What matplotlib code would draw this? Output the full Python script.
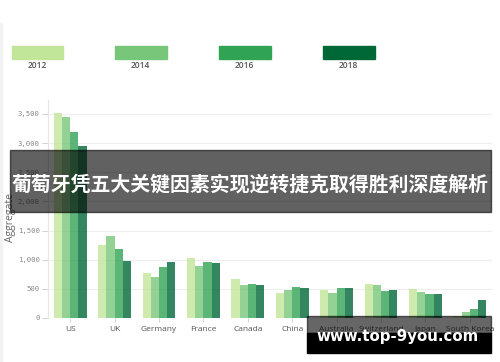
import numpy as np
import matplotlib.pyplot as plt
from matplotlib.patches import Rectangle

# tweak matplotlib settings
plt.rcParams['font.family'] = ['Open Sans', 'DejaVu Sans']

# data
countries = ['US', 'UK', 'Germany', 'France', 'Canada', 'China',
             'Australia', 'Switzerland', 'Japan', 'South Korea']
years = ['2012', '2014', '2016', '2018']
v2012 = [3520, 1260, 777, 1035, 663, 435, 486, 582, 491, 30]
v2014 = [3440, 1415, 697, 885, 560, 486, 435, 560, 445, 105]
v2016 = [3195, 1190, 868, 954, 582, 531, 514, 462, 411, 148]
v2018 = [2955, 976, 959, 937, 565, 520, 509, 486, 417, 313]
colors = ['#c2e699', '#78c679', '#31a354', '#006837']

W, H = 500, 362
fig = plt.figure(figsize=(W / 100, H / 100), dpi=100)

def fx(px):
    return px / W

def fy(py):
    return 1 - py / H

# light strip on the left edge
fig.patches.append(Rectangle((0, 0), fx(2.3), fy(23), transform=fig.transFigure,
                             color='#f2f2f2', zorder=0))

# main axes
ax = fig.add_axes([fx(48), fy(318), fx(492 - 48), fy(100) - fy(318)])
xs = np.arange(len(countries))
bw = 0.185
series = [v2012, v2014, v2016, v2018]
for i, vals in enumerate(series):
    ax.bar(xs + (i - 1.5) * bw, vals, width=bw, color=colors[i], alpha=0.8,
           linewidth=0, zorder=2)

ax.set_xlim(-0.5, len(countries) - 0.5)
ax.set_ylim(0, 3740)
ax.set_yticks(np.arange(0, 3501, 500))
ax.set_yticklabels(['{:,}'.format(v) for v in range(0, 3501, 500)],
                   family='DejaVu Sans Mono', fontsize=5.2, color='#888888')
ax.set_xticks(xs)
ax.set_xticklabels(countries, fontsize=6, color='#555555')
ax.tick_params(axis='y', length=4.5, width=0.6, color='#cccccc', pad=1.5)
ax.tick_params(axis='x', length=3, width=0.6, color='#cccccc', pad=3)
ax.grid(axis='y', color='#eeeeee', linewidth=0.8, zorder=0)
for s in ['top', 'right', 'bottom']:
    ax.spines[s].set_visible(False)
ax.spines['left'].set_color('#e6e6e6')
ax.spines['left'].set_linewidth(0.8)
ax.set_ylabel('Aggregate', fontsize=7.5, color='#666666')
ax.yaxis.set_label_coords((16 - 48) / 444, 0.46)

# legend swatches along the top
lx = [11.7, 115, 219, 323]
for i, y in enumerate(years):
    fig.patches.append(Rectangle((fx(lx[i]), fy(59)), fx(51.5), fy(46) - fy(59),
                                 transform=fig.transFigure, color=colors[i]))
    fig.text(fx(lx[i] + 25.7), fy(65.5), y, ha='center', va='center',
             fontsize=6, color='#555555', weight='semibold')

# dark banner over the chart
fig.patches.append(Rectangle((fx(10), fy(212)), fx(481), fy(150) - fy(212),
                             transform=fig.transFigure, color='black', alpha=0.62,
                             zorder=5))
fig.text(fx(250.5), fy(184), '葡萄牙凭五大关键因素实现逆转捷克取得胜利深度解析',
         ha='center', va='center', fontsize=14.3, color='white', weight='bold',
         family=['Noto Sans CJK SC', 'DejaVu Sans'], zorder=6)

# watermark at the bottom right
fig.patches.append(Rectangle((fx(306.7), fy(333.3)), fx(184.3), fy(316) - fy(333.3),
                             transform=fig.transFigure, color='black', alpha=0.6,
                             zorder=5))
fig.patches.append(Rectangle((fx(306.7), fy(352.7)), fx(184.3), fy(333.3) - fy(352.7),
                             transform=fig.transFigure, color='black', zorder=5))
fig.text(fx(397.5), fy(337), 'www.top-9you.com', ha='center', va='center',
         fontsize=10.8, color='white', weight='bold', family='DejaVu Sans', zorder=6)

plt.savefig('out.png', dpi=100)
